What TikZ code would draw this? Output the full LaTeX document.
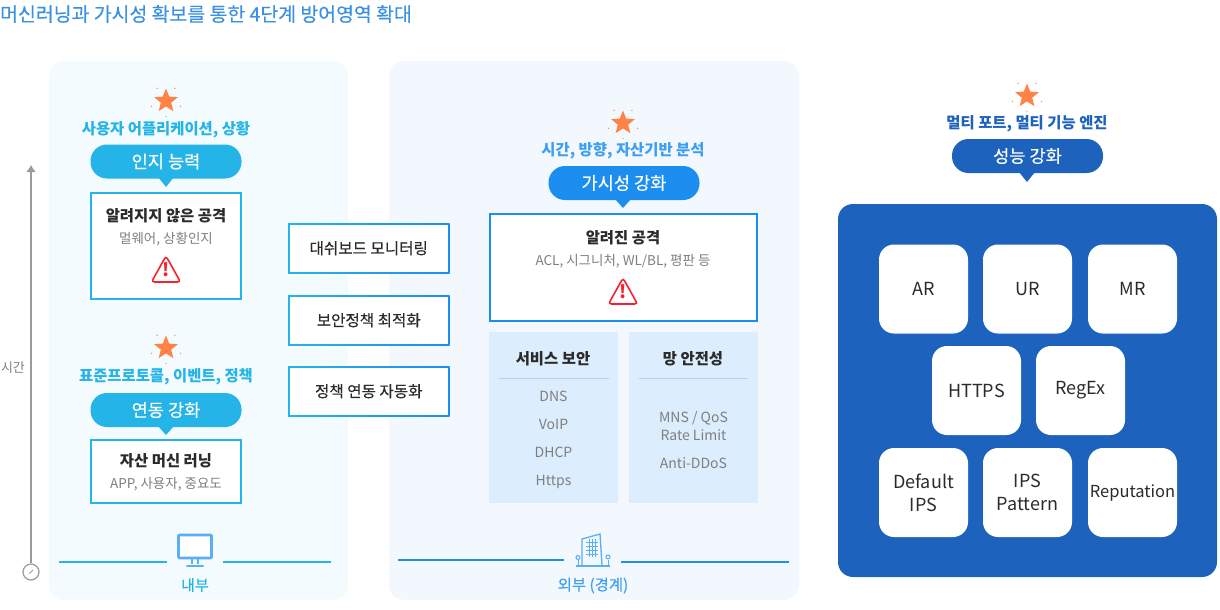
\documentclass[tikz,border=0pt]{standalone}
\usepackage{fontspec}
\setmainfont{Noto Sans CJK KR}
\newfontfamily\medfont[FakeBold=0.3]{Noto Sans CJK KR}
\usetikzlibrary{shapes.geometric, arrows.meta}

\definecolor{titleblue}{HTML}{3A90E2}
\definecolor{cyanmain}{HTML}{25B4E8}
\definecolor{bluemain}{HTML}{1C8EF0}
\definecolor{navymain}{HTML}{1D63BE}
\definecolor{panelcyan}{HTML}{F3FBFF}
\definecolor{panelblue}{HTML}{F3F8FF}
\definecolor{cellblue}{HTML}{DCEDFD}
\definecolor{rulecell}{HTML}{A9D6FA}
\definecolor{starorange}{HTML}{FF8247}
\definecolor{warnred}{HTML}{F5222D}
\definecolor{subgray}{HTML}{7F7F7F}
\definecolor{timegray}{HTML}{9A9A9A}
\definecolor{textdark}{HTML}{2B2B2B}
\definecolor{iconblue}{HTML}{5AAEF5}

\tikzset{
    panel/.style={rounded corners=15pt},
    capline/.style={font=\bfseries\fontsize{15.4}{17}\selectfont},
    pill/.style={rounded corners=16.5pt, minimum width=151pt, minimum height=34pt, inner sep=0pt,
        text=white, font=\medfont\fontsize{17.6}{19}\selectfont},
    framebox/.style={draw=#1, line width=2pt, fill=white, inner sep=0pt},
    gradinner/.style={fill=white, inner sep=0pt, minimum width=157.5pt, minimum height=46.5pt, text=textdark,
        font=\medfont\fontsize{15.6}{17}\selectfont},
    gradframe/.style={left color=cyanmain, right color=bluemain},
    headtext/.style={text=textdark, font=\bfseries\fontsize{15.4}{17}\selectfont},
    subtext/.style={text=subgray, font=\fontsize{13.5}{15}\selectfont},
    itemtext/.style={text=subgray, font=\fontsize{14}{16}\selectfont, align=center, text height=12pt, text depth=2pt},
    engine/.style={fill=white, rounded corners=15pt, minimum width=89pt, minimum height=89pt, inner sep=0pt,
        align=center, text=textdark, font=\fontsize{18}{23}\selectfont},
    baseline/.style={line width=1.5pt},
    sparkstar/.style={star, star points=5, star point ratio=2.3, minimum size=25pt, inner sep=0pt, fill=starorange},
}

\newcommand{\hotstar}[2]{
    \node[sparkstar] (#1) at (#2) {};
    \foreach \a in {20, 90, 160, 235, 305} {
        \fill[starorange] (#2) ++(\a:15.5) circle (0.7);
    }
}
\newcommand{\warnmark}[2]{
    \draw[warnred, line width=1.6pt, rounded corners=3pt] (#2) ++(0,-14) -- ++(14.5,26) -- ++(-29,0) -- cycle;
    \node[inner sep=0pt, text=warnred, font=\bfseries\fontsize{18}{18}\selectfont] (#1) at (#2) {!};
}

\begin{document}
\begin{tikzpicture}[x=1pt, y=-1pt]
    \useasboundingbox (0, 0) rectangle (1220, 610);

    \node[anchor=west, inner sep=0pt, text=titleblue, font=\medfont\fontsize{19.4}{21}\selectfont] (title) at (0, 14) {머신러닝과 가시성 확보를 통한 4단계 방어영역 확대};

    \fill[panelcyan, panel] (49, 61) rectangle (348, 600);
    \fill[panelblue, panel] (389, 61) rectangle (799, 600);
    \fill[navymain, panel] (838, 204) rectangle (1217, 577);

    \node[text=subgray, font=\fontsize{13}{15}\selectfont] (timelabel) at (13, 368) {시간};
    \node[draw=timegray, circle, line width=1.2pt, minimum size=16pt, inner sep=0pt] (clock) at (31, 572) {};
    \coordinate (timetop) at (31, 165);
    \draw[timegray, line width=2pt, -{Latex[length=7pt, width=10pt]}] (clock) -- (timetop);
    \draw[timegray, line width=1pt] (clock.center) ++(-1.5, 1.5) -- ++(3.5, -3.5);

    \hotstar{staruser}{166, 101}
    \node[capline, text=cyanmain] (capuser) at (166, 129.5) {사용자 어플리케이션, 상황};
    \fill[cyanmain] (158, 177) -- (166, 187) -- (174, 177) -- cycle;
    \node[pill, fill=cyanmain] (pillaware) at (166, 161.5) {인지 능력};
    \node[framebox=cyanmain, minimum width=150pt, minimum height=106pt] (unknown) at (166, 246) {};
    \node[headtext] (unknownhead) at (166, 216) {알려지지 않은 공격};
    \node[subtext] (unknownsub) at (166, 239) {멀웨어, 상황인지};
    \warnmark{warnunknown}{166, 270}

    \hotstar{starproto}{166, 348}
    \node[capline, text=cyanmain] (capproto) at (166, 377) {표준프로토콜, 이벤트, 정책};
    \fill[cyanmain] (158, 426) -- (166, 435) -- (174, 426) -- cycle;
    \node[pill, fill=cyanmain] (pilllink) at (166, 410) {연동 강화};
    \node[framebox=cyanmain, minimum width=150pt, minimum height=63pt] (asset) at (166, 471.5) {};
    \node[headtext] (assethead) at (166, 461) {자산 머신 러닝};
    \node[subtext] (assetsub) at (166, 484) {APP, 사용자, 중요도};

    \shade[gradframe] (288, 223) rectangle (449.5, 273.5);
    \shade[gradframe] (288, 295) rectangle (449.5, 345.5);
    \shade[gradframe] (288, 366) rectangle (449.5, 416.5);
    \node[gradinner] (dash) at (368.75, 248.25) {대쉬보드 모니터링};
    \node[gradinner] (policy) at (368.75, 320.25) {보안정책 최적화};
    \node[gradinner] (auto) at (368.75, 391.25) {정책 연동 자동화};

    \hotstar{starvis}{623, 123}
    \node[capline, text=bluemain!85!white] (capvis) at (623, 151) {시간, 방향, 자산기반 분석};
    \fill[bluemain] (615, 199) -- (623, 208) -- (631, 199) -- cycle;
    \node[pill, fill=bluemain] (pillvis) at (624, 183) {가시성 강화};
    \node[framebox=bluemain, minimum width=267pt, minimum height=107pt] (known) at (623.5, 267.5) {};
    \node[headtext] (knownhead) at (623, 238) {알려진 공격};
    \node[subtext] (knownsub) at (623, 261) {ACL, 시그니처, WL/BL, 평판 등};
    \warnmark{warnknown}{623, 292}

    \node[fill=cellblue, minimum width=129pt, minimum height=171pt, inner sep=0pt] (service) at (553.5, 417.5) {};
    \node[fill=cellblue, minimum width=129pt, minimum height=171pt, inner sep=0pt] (network) at (693.5, 417.5) {};
    \node[headtext] (servicehead) at (553, 359) {서비스 보안};
    \node[headtext] (networkhead) at (693, 359) {망 안전성};
    \coordinate (ruleAa) at (499, 378);
    \coordinate (ruleAb) at (609, 378);
    \coordinate (ruleBa) at (639, 378);
    \coordinate (ruleBb) at (748, 378);
    \draw[rulecell, line width=1pt] (ruleAa) -- (ruleAb);
    \draw[rulecell, line width=1pt] (ruleBa) -- (ruleBb);
    \node[itemtext] (dns) at (553.5, 396) {DNS};
    \node[itemtext] (voip) at (553.5, 424) {VoIP};
    \node[itemtext] (dhcp) at (553.5, 452) {DHCP};
    \node[itemtext] (https) at (553.5, 480) {Https};
    \node[itemtext] (mns) at (693.5, 417) {MNS / QoS};
    \node[itemtext] (rate) at (693.5, 435) {Rate Limit};
    \node[itemtext] (ddos) at (693.5, 463) {Anti-DDoS};

    \coordinate (lineAa) at (59, 562);
    \coordinate (lineAb) at (167, 562);
    \coordinate (lineAc) at (223, 562);
    \coordinate (lineAd) at (331, 562);
    \draw[cyanmain, baseline] (lineAa) -- (lineAb);
    \draw[cyanmain, baseline] (lineAc) -- (lineAd);
    \draw[iconblue, fill=white, line width=2.6pt, rounded corners=1pt] (178.5, 535) rectangle (211.5, 558);
    \draw[iconblue, line width=1.6pt] (192, 559) -- (192, 564) (198, 559) -- (198, 564);
    \draw[iconblue, line width=2pt, line cap=round] (187, 566) -- (203, 566);
    \node[text=cyanmain, font=\medfont\fontsize{15}{17}\selectfont] (inner) at (195, 585) {내부};

    \coordinate (lineBa) at (398, 560);
    \coordinate (lineBb) at (564, 560);
    \coordinate (lineBc) at (621, 562);
    \coordinate (lineBd) at (789, 562);
    \draw[bluemain, baseline] (lineBa) -- (lineBb);
    \draw[bluemain, baseline] (lineBc) -- (lineBd);
    \draw[iconblue, line width=1.3pt] (582, 565) -- (582, 539) -- (600, 534) -- (602, 565);
    \draw[iconblue, line width=1.3pt] (576, 566) -- (610, 566);
    \draw[iconblue, line width=1pt] (586, 542) -- (598, 542) (586, 546) -- (598, 546) (586, 550) -- (598, 550) (586, 554) -- (598, 554);
    \draw[iconblue, line width=1pt] (589, 539) -- (589, 557) (592, 539) -- (592, 557) (595, 539) -- (595, 557);
    \draw[iconblue, line width=1pt] (578, 566) -- (578, 560) (608, 566) -- (608, 560);
    \draw[iconblue, line width=1pt] (578, 557.5) circle (2) (608, 557) circle (2);
    \node[text=bluemain!85!white, font=\medfont\fontsize{15.4}{17}\selectfont] (outer) at (593, 585.5) {외부 (경계)};

    \hotstar{starmulti}{1027, 96}
    \node[capline, text=navymain] (capmulti) at (1027, 124) {멀티 포트, 멀티 기능 엔진};
    \fill[navymain] (1019, 172) -- (1027, 182) -- (1035, 172) -- cycle;
    \node[pill, fill=navymain] (pillperf) at (1027.5, 156) {성능 강화};

    \node[engine] (ar) at (923.5, 289) {AR};
    \node[engine] (ur) at (1027.5, 289) {UR};
    \node[engine] (mr) at (1132.5, 289) {MR};
    \node[engine] (httpsbox) at (976.5, 390.5) {HTTPS};
    \node[engine] (regex) at (1080.5, 390.5) {RegEx};
    \node[engine] (default) at (923.5, 492.5) {Default\\IPS};
    \node[engine] (pattern) at (1027.5, 492.5) {IPS\\Pattern};
    \node[engine, font=\fontsize{16.5}{20}\selectfont] (reputation) at (1132.5, 492.5) {Reputation};
\end{tikzpicture}
\end{document}
